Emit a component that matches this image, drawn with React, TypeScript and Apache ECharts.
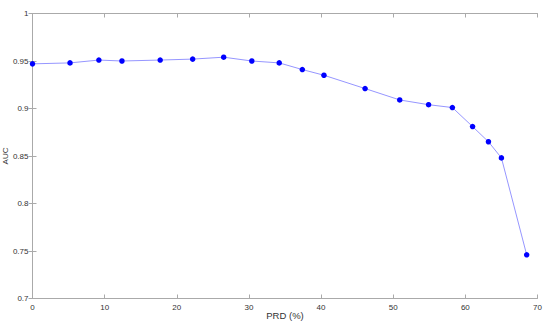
import React, { useEffect, useRef } from "react";
import * as echarts from "echarts";

const prd = [0, 5.2, 9.2, 12.4, 17.7, 22.2, 26.5, 30.4, 34.2, 37.4, 40.4, 46.1, 50.9, 54.9, 58.2, 61.0, 63.2, 65.0, 68.5];
const auc = [0.947, 0.948, 0.951, 0.950, 0.951, 0.952, 0.954, 0.950, 0.948, 0.941, 0.935, 0.921, 0.909, 0.904, 0.901, 0.881, 0.865, 0.848, 0.746];
const xTitle = "PRD (%)";
const yTitle = "AUC";

export default function App() {
  const ref = useRef<HTMLDivElement>(null);
  useEffect(() => {
    if (!ref.current) return;
    const chart = echarts.init(ref.current, null, { renderer: "svg" });
    const axisColor = "#aaaaaa";
    const labelStyle = { color: "#333333", fontSize: 8, fontFamily: "Liberation Sans, Arial, sans-serif" };
    const grid = { left: 32.5, top: 13.5, right: 12.5, bottom: 28.5, containLabel: false, outerBoundsMode: "none" };
    chart.setOption({
      animation: false,
      grid,
      xAxis: [
        {
          type: "value", min: 0, max: 70, interval: 10, position: "bottom",
          name: xTitle, nameLocation: "middle", nameGap: 12, nameMoveOverlap: false,
          nameTextStyle: { ...labelStyle, fontSize: 9.5 },
          axisLine: { show: true, lineStyle: { color: axisColor, width: 1 } },
          axisTick: { show: true, inside: true, length: 4, lineStyle: { color: axisColor } },
          axisLabel: { ...labelStyle, margin: 5 },
          splitLine: { show: false },
        },
        {
          type: "value", min: 0, max: 70, interval: 10, position: "top",
          axisLine: { show: true, lineStyle: { color: axisColor, width: 1 } },
          axisTick: { show: true, inside: true, length: 4, lineStyle: { color: axisColor } },
          axisLabel: { show: false },
          splitLine: { show: false },
        },
      ],
      yAxis: [
        {
          type: "value", min: 0.7, max: 1, interval: 0.05, position: "left",
          name: yTitle, nameLocation: "middle", nameGap: 23, nameRotate: 90, nameMoveOverlap: false,
          nameTextStyle: { ...labelStyle, fontSize: 8 },
          axisLine: { show: true, lineStyle: { color: axisColor, width: 1 } },
          axisTick: { show: true, inside: true, length: 4, lineStyle: { color: axisColor } },
          axisLabel: { ...labelStyle, margin: 4, formatter: (v: number) => String(Math.round(v * 100) / 100) },
          splitLine: { show: false },
        },
        {
          type: "value", min: 0.7, max: 1, interval: 0.05, position: "right",
          axisLine: { show: true, lineStyle: { color: axisColor, width: 1 } },
          axisTick: { show: true, inside: true, length: 4, lineStyle: { color: axisColor } },
          axisLabel: { show: false },
          splitLine: { show: false },
        },
      ],
      series: [
        {
          type: "line",
          data: prd.map((x, i) => [x, auc[i]]),
          xAxisIndex: 0,
          yAxisIndex: 0,
          symbol: "circle",
          symbolSize: 5.5,
          itemStyle: { color: "#0000ff" },
          lineStyle: { color: "#9696ff", width: 1 },
          clip: false,
        },
      ],
    });
    return () => chart.dispose();
  }, []);
  return <div ref={ref} style={{ width: 550, height: 327, position: "absolute", left: 0, top: 0, background: "#fff" }} />;
}
